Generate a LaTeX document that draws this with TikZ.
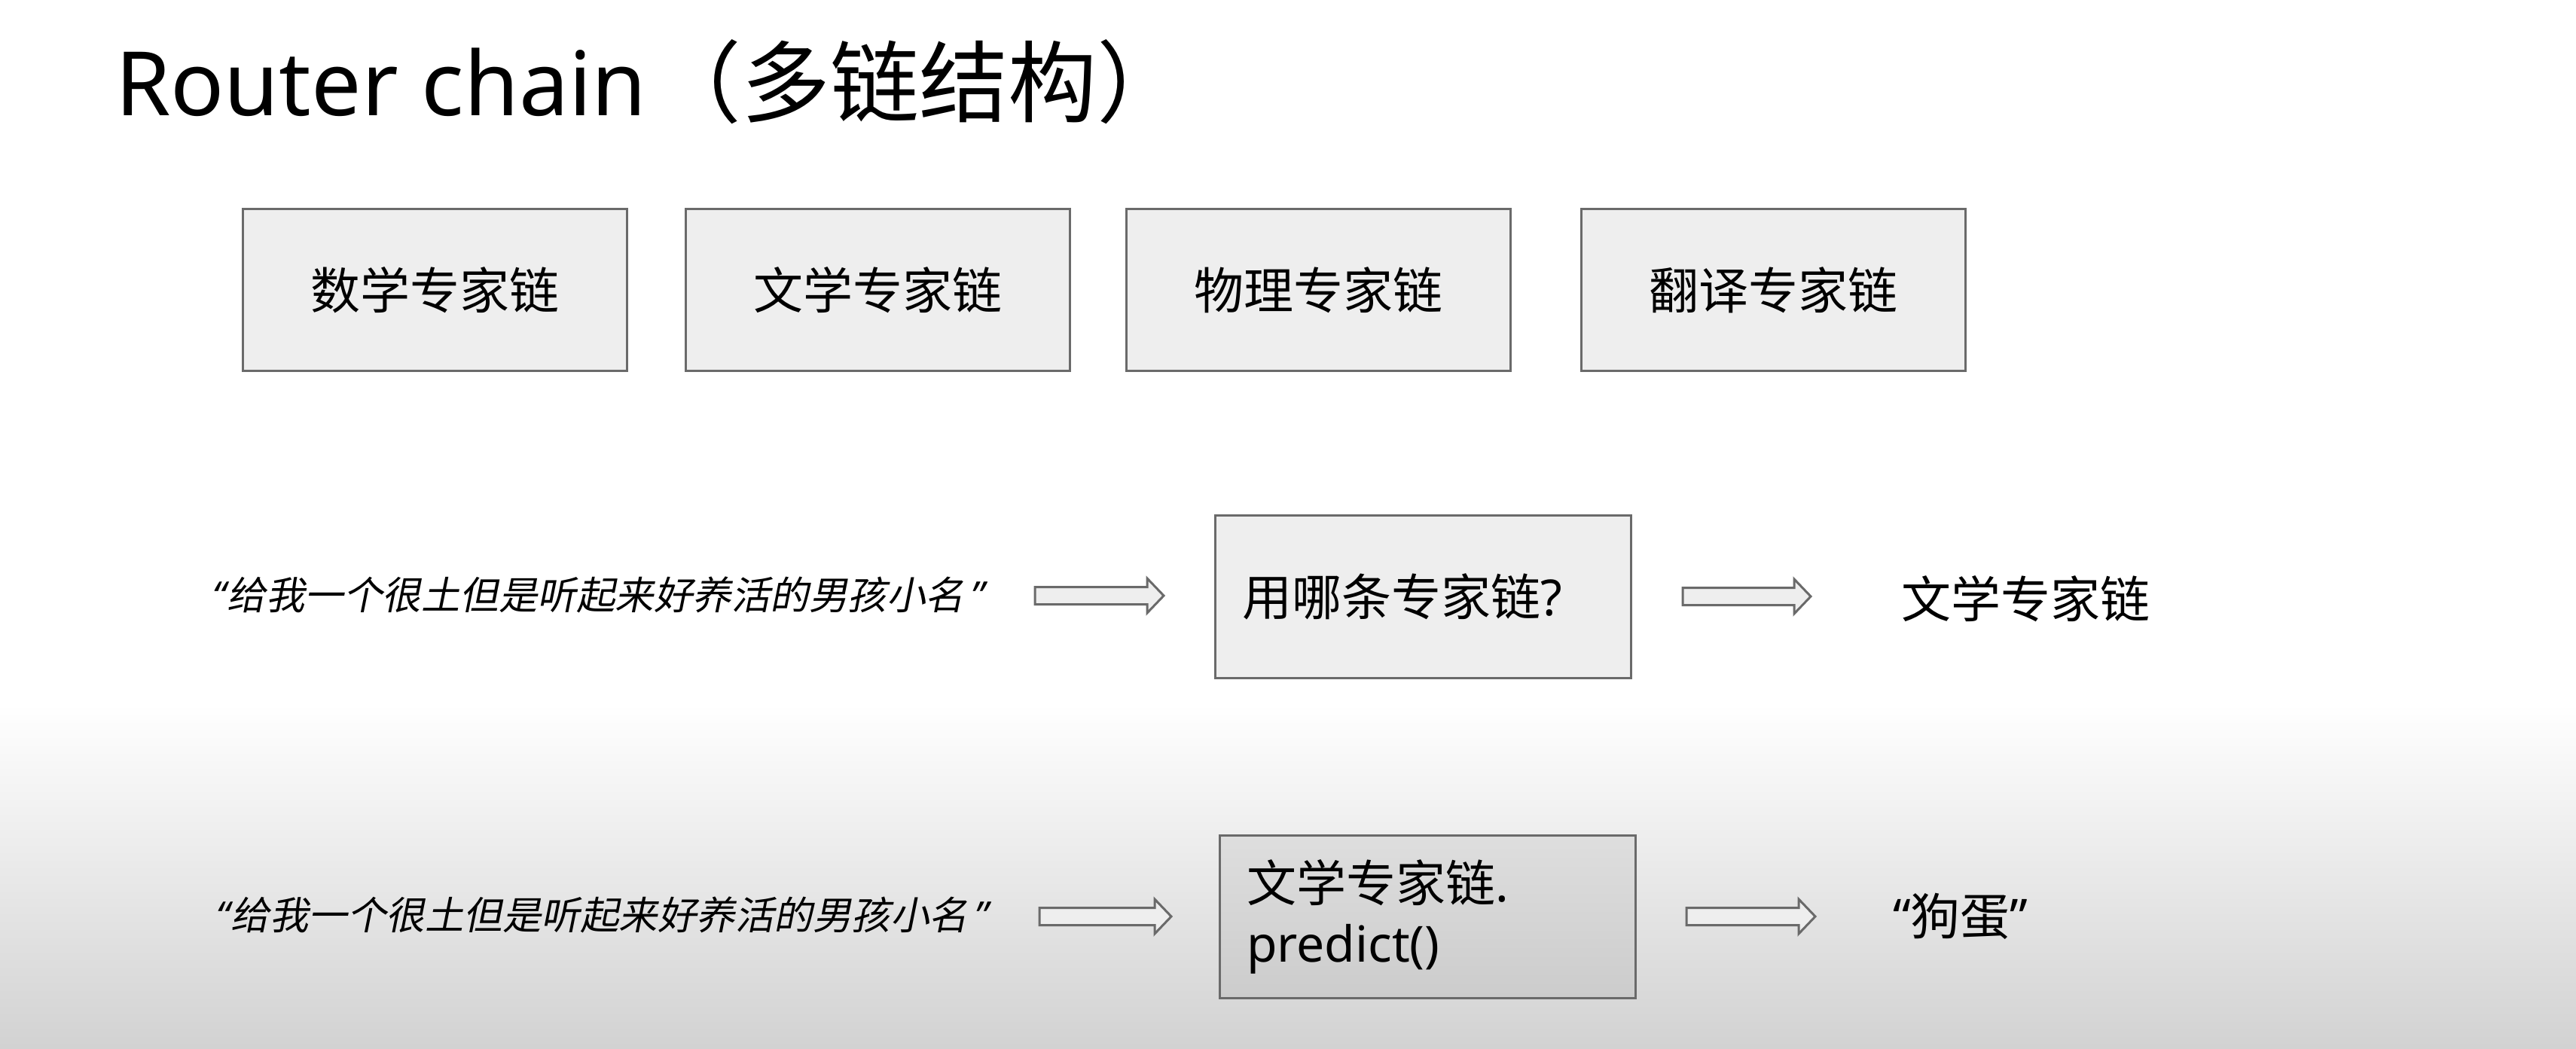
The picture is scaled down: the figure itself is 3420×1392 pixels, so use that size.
\documentclass[tikz,border=0pt]{standalone}
\usepackage{fontspec}
\setmainfont{Noto Sans}
\newfontfamily\cjk{Noto Sans CJK SC}
\newfontfamily\cjkit{Noto Sans CJK SC}[FakeSlant=0.2]
\newfontfamily\latinit{Noto Sans}[FakeSlant=0.2]
\usetikzlibrary{calc}
\definecolor{boxfill}{HTML}{EEEEEE}
\definecolor{boxline}{HTML}{6A6A6A}
\definecolor{shadefill}{HTML}{D2D2D2}
\definecolor{darkfilltop}{HTML}{DEDEDE}
\definecolor{darkfillbot}{HTML}{CCCCCC}
\tikzset{
  chainbox/.style={draw=boxline, fill=boxfill, line width=3pt,
    minimum width=510pt, minimum height=215pt, inner sep=0pt,
    font=\cjk\fontsize{66}{80}\selectfont},
  routerbox/.style={chainbox, minimum width=552pt, minimum height=216pt,
    inner xsep=36pt, text width=480pt, align=left},
  querytext/.style={anchor=west, inner sep=0pt,
    font=\cjkit\fontsize{51.5}{62}\selectfont},
  answertext/.style={anchor=west, inner sep=0pt,
    font=\cjk\fontsize{66}{80}\selectfont},
  blockarrow/.style={draw=boxline, fill=boxfill, line width=3pt, line join=miter,
    to path={let \p1=(\tikztostart), \p2=(\tikztotarget) in
      (\x1,\y1+11.5pt) -- (\x2-22pt,\y1+11.5pt) -- (\x2-22pt,\y1+23pt) -- (\x2,\y1)
      -- (\x2-22pt,\y1-23pt) -- (\x2-22pt,\y1-11.5pt) -- (\x1,\y1-11.5pt) -- cycle}}
}
\begin{document}
\begin{tikzpicture}[x=1pt,y=-1pt]
  \useasboundingbox (0,0) rectangle (3420,1392);
  % background
  \fill[white] (0,0) rectangle (3420,934);
  \shade[top color=white, bottom color=shadefill] (0,934) rectangle (3420,1392);

  \node[anchor=base west, inner sep=0pt, font=\fontsize{118}{140}\selectfont]
    (title) at (153,153) {Router chain\kern8pt{\cjk（多链结构）}};

  % the expert chains
  \node[chainbox] (math) at (577,385) {数学专家链};
  \node[chainbox] (lit) at (1165,385) {文学专家链};
  \node[chainbox] (phys) at (1750,385) {物理专家链};
  \node[chainbox] (trans) at (2354,385) {翻译专家链};

  % routing step
  \node[querytext] (q1) at (279,790) {{\latinit “\kern4pt}给我一个很土但是听起来好养活的男孩小名{\latinit\kern6pt”}};
  \node[routerbox] (router) at (1889,792) {用哪条专家链{\rmfamily ?}};
  \node[answertext] (pick) at (2524,795) {文学专家链};
  \coordinate (a1s) at (1374,791);
  \coordinate (a1e) at (1545,791);
  \coordinate (a2s) at (2234,792);
  \coordinate (a2e) at (2404,792);
  \draw[blockarrow] (a1s) to (a1e);
  \draw[blockarrow] (a2s) to (a2e);

  % predict step
  \node[querytext] (q2) at (284,1215) {{\latinit “\kern4pt}给我一个很土但是听起来好养活的男孩小名{\latinit\kern6pt”}};
  \node[routerbox, top color=darkfilltop, bottom color=darkfillbot, minimum width=549pt]
    (predict) at (1895,1217) {文学专家链{\rmfamily .}\\{\rmfamily predict()}};
  \node[answertext] (result) at (2513,1217) {{\rmfamily “}狗蛋{\rmfamily ”}};
  \coordinate (a3s) at (1380,1217);
  \coordinate (a3e) at (1555,1217);
  \coordinate (a4s) at (2239,1217);
  \coordinate (a4e) at (2410,1217);
  \draw[blockarrow] (a3s) to (a3e);
  \draw[blockarrow] (a4s) to (a4e);
\end{tikzpicture}
\end{document}
